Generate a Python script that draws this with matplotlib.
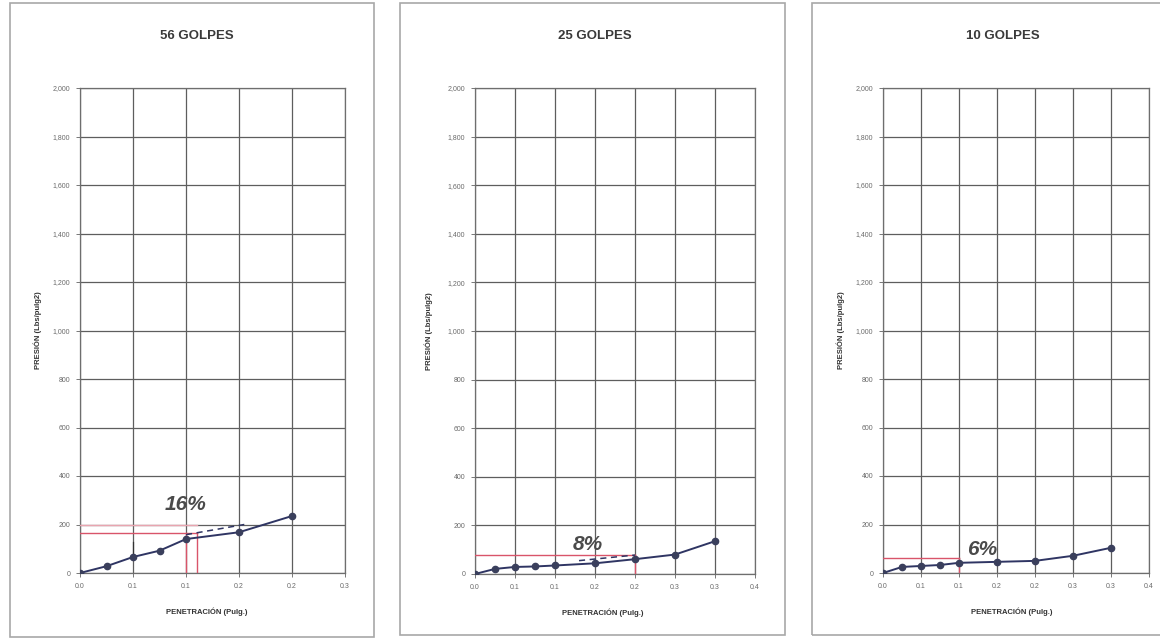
import matplotlib
matplotlib.use("Agg")
import matplotlib.pyplot as plt
from matplotlib.patches import Rectangle

plt.rcParams['font.family'] = ['Liberation Sans', 'DejaVu Sans']

# ---- data: CBR load-penetration curves ----
titles = ["56 GOLPES", "25 GOLPES", "10 GOLPES"]

pen_56 = [0.0, 0.025, 0.05, 0.075, 0.1, 0.15, 0.2]
pres_56 = [0, 28, 66, 92, 140, 168, 235]

pen_25 = [0.0, 0.025, 0.05, 0.075, 0.1, 0.15, 0.2, 0.25, 0.3]
pres_25 = [0, 21, 29, 31, 35, 44, 61, 80, 135]

pen_10 = [0.0, 0.025, 0.05, 0.075, 0.1, 0.15, 0.2, 0.25, 0.3]
pres_10 = [0, 25, 29, 33, 42, 46, 50, 71, 104]

cbr_labels = ["16%", "8%", "6%"]
# pressure read at the design penetration and the penetrations used
cbr_pressure = [165, 79, 62]
cbr_penetration = [[0.1, 0.11], [0.2], [0.1]]

x_max = [0.25, 0.35, 0.35]
xtick_labels_short = ["0.0", "0.1", "0.1", "0.2", "0.2", "0.3"]
xtick_labels_long = ["0.0", "0.1", "0.1", "0.2", "0.2", "0.3", "0.3", "0.4"]
y_ticks = [0, 200, 400, 600, 800, 1000, 1200, 1400, 1600, 1800, 2000]

# corrected (dashed) segments
dash_56 = ([0.1, 0.155], [158, 200])
dash_25 = ([0.13, 0.2], [55, 78])
# short guide at 0.05" on the 56-blow curve
guide_56 = ([0.05, 0.05], [66, 128])

W, H = 1160, 640
fig = plt.figure(figsize=(W / 100, H / 100), dpi=100)
fig.patch.set_facecolor("white")


def px_rect(x0, y0, x1, y1):
    return [x0 / W, 1 - y1 / H, (x1 - x0) / W, (y1 - y0) / H]


# panel frames
for (x0, y0, x1, y1) in [(10, 3, 374, 637), (400, 3, 785, 635), (812, 3, 1175, 635)]:
    fig.patches.append(Rectangle((x0 / W, 1 - y1 / H), (x1 - x0) / W, (y1 - y0) / H,
                                 transform=fig.transFigure, fill=False,
                                 edgecolor="#a8a8a8", linewidth=1.2))

axes_px = [(80, 88, 345, 573), (475, 88, 755, 574), (883, 88, 1149, 573)]
title_px = [(197, 36), (595, 36), (1003, 36)]
ylabel_x = [-0.143, -0.15, -0.143]
xlabel_x = [0.48, 0.457, 0.485]
text_pos = [(0.1, 282), (0.141, 121), (0.13, 95)]

series = [(pen_56, pres_56), (pen_25, pres_25), (pen_10, pres_10)]
line_col = "#2f3563"
red = "#d9546a"

for i in range(3):
    ax = fig.add_axes(px_rect(*axes_px[i]))
    ax.set_xlim(0, x_max[i])
    ax.set_ylim(0, 2000)
    n = int(round(x_max[i] / 0.05)) + 1
    xt = [k * 0.05 for k in range(n)]
    ax.set_xticks(xt)
    ax.set_xticklabels(xtick_labels_short if n == 6 else xtick_labels_long)
    ax.set_yticks(y_ticks)
    ax.set_yticklabels([f"{v:,}" for v in y_ticks])
    ax.grid(True, color="#5e5e5e", linewidth=0.9)
    ax.set_axisbelow(True)
    for s in ax.spines.values():
        s.set_color("#6e6e6e")
        s.set_linewidth(0.9)
    ax.tick_params(axis="both", length=3, width=0.7, color="#777777",
                   labelsize=5, labelcolor="#6a6a6a", pad=4)

    # red reading lines
    p = cbr_pressure[i]
    xr = max(cbr_penetration[i])
    ax.plot([0, xr], [p, p], color=red, lw=1.0, zorder=3)
    for xv in cbr_penetration[i]:
        ax.plot([xv, xv], [0, p], color=red, lw=1.0, zorder=3)
    if i == 0:
        ax.plot([0, xr], [198, 198], color="#e9a5b0", lw=1.0, zorder=3)
        ax.plot(*guide_56, color="#333333", lw=0.9, zorder=4)
        ax.plot(*dash_56, color=line_col, lw=1.1, ls=(0, (4, 3)), zorder=4)
    if i == 1:
        ax.plot(*dash_25, color=line_col, lw=1.1, ls=(0, (4, 3)), zorder=4)

    xs, ys = series[i]
    ax.plot(xs, ys, color=line_col, lw=1.4, marker="o", markersize=4.5,
            markerfacecolor="#3a3f5c", markeredgecolor="#3a3f5c", zorder=5)

    tx, ty = text_pos[i]
    ax.text(tx, ty, cbr_labels[i], fontsize=15, fontweight="bold", style="italic",
            color="#4a4a4a", ha="center", va="center", zorder=6)

    ax.set_ylabel("PRESIÓN (Lbs/pulg2)", fontsize=5.5, fontweight="bold", color="#333333")
    ax.yaxis.set_label_coords(ylabel_x[i], 0.5)
    ax.set_xlabel("PENETRACIÓN (Pulg.)", fontsize=5.5, fontweight="bold", color="#333333")
    ax.xaxis.set_label_coords(xlabel_x[i], -0.072)

    fig.text(title_px[i][0] / W, 1 - title_px[i][1] / H, titles[i], fontsize=9.5,
             color="#3a3a3a", ha="center", va="center", fontweight="semibold")

fig.savefig("out.png", dpi=100, facecolor="white")
